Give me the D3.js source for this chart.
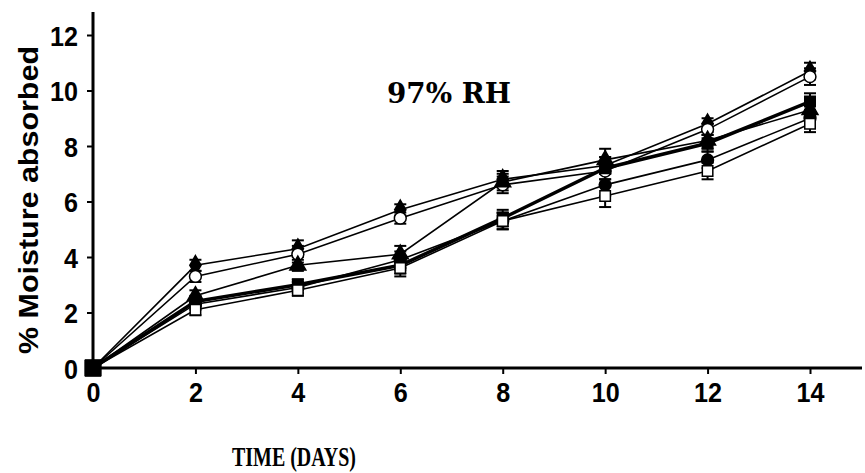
<!DOCTYPE html>
<html><head><meta charset="utf-8">
<script src="https://cdn.jsdelivr.net/npm/d3@7/dist/d3.min.js"></script>
<style>body{margin:0;background:#fff}svg{display:block}</style>
</head><body>
<svg id="c" width="865" height="473"></svg>
<script>
const days = [0, 2, 4, 6, 8, 10, 12, 14];
const xTicks = [0, 2, 4, 6, 8, 10, 12, 14];
const yTicks = [0, 2, 4, 6, 8, 10, 12];
const seriesA = [0, 3.7, 4.3, 5.7, 6.8, 7.3, 8.8, 10.7];
const seriesB = [0, 3.3, 4.1, 5.4, 6.6, 7.1, 8.6, 10.5];
const seriesC = [0, 2.6, 3.7, 4.1, 6.7, 7.5, 8.2, 9.3];
const seriesD = [0, 2.4, 3.0, 3.7, 5.4, 7.2, 8.1, 9.6];
const seriesE = [0, 2.3, 2.9, 3.9, 5.3, 6.6, 7.5, 9.0];
const seriesF = [0, 2.1, 2.8, 3.6, 5.3, 6.2, 7.1, 8.8];
const errA = [0, 0.2, 0.3, 0.2, 0.3, 0.3, 0.2, 0.3];
const errD = [0, 0.2, 0.2, 0.3, 0.3, 0.4, 0.3, 0.3];
const series = [
  {v: seriesA, e: errA, sym: d3.symbolDiamond, fill: "#000", w: 1.6},
  {v: seriesB, e: errA, sym: d3.symbolCircle, fill: "#fff", w: 1.6},
  {v: seriesC, e: errD, sym: d3.symbolTriangle, fill: "#000", w: 1.6},
  {v: seriesD, e: errD, sym: d3.symbolSquare, fill: "#000", w: 3.5},
  {v: seriesE, e: errD, sym: d3.symbolCircle, fill: "#000", w: 1.6},
  {v: seriesF, e: errD, sym: d3.symbolSquare, fill: "#fff", w: 1.6}
];

const svg = d3.select("#c");
const x = d3.scaleLinear().domain([0, 14]).range([93, 810]);
const y = d3.scaleLinear().domain([0, 12]).range([368, 35]);

// axes
const yAxis = svg.append("g").attr("transform", "translate(93,0)")
  .call(d3.axisLeft(y).tickValues(yTicks).tickSize(6).tickPadding(9));
yAxis.select(".domain").remove();
svg.append("line").attr("x1", 93).attr("x2", 93).attr("y1", 12).attr("y2", 369)
  .attr("stroke", "#000").attr("stroke-width", 3);
const xAxis = svg.append("g").attr("transform", "translate(0,368)")
  .call(d3.axisBottom(x).tickValues(xTicks).tickSize(6).tickPadding(8));
xAxis.select(".domain").remove();
svg.append("line").attr("x1", 92).attr("x2", 862).attr("y1", 368).attr("y2", 368)
  .attr("stroke", "#000").attr("stroke-width", 3);
svg.selectAll(".tick line").attr("stroke", "#000").attr("stroke-width", 2);
svg.selectAll(".tick text").attr("font-family", "Liberation Sans, Arial, sans-serif")
  .attr("font-weight", "bold").attr("font-size", 28).attr("fill", "#000")
  .attr("textLength", function() { return this.textContent.length * 14; })
  .attr("lengthAdjust", "spacingAndGlyphs");
yAxis.selectAll(".tick text").attr("dy", "0.36em");
xAxis.selectAll(".tick text").attr("dy", "0.72em");

// lines
const line = d3.line().x((d, i) => x(days[i])).y(d => y(d));
const g = svg.append("g");
series.forEach(s => {
  g.append("path").datum(s.v).attr("d", line)
    .attr("fill", "none").attr("stroke", "#000").attr("stroke-width", s.w);
});
// error bars
series.forEach(s => {
  s.v.forEach((v, i) => {
    if (i === 0) return;
    const cx = x(days[i]);
    g.append("line").attr("x1", cx).attr("x2", cx).attr("y1", y(v + s.e[i])).attr("y2", y(v - s.e[i]))
      .attr("stroke", "#000").attr("stroke-width", 2);
    [v + s.e[i], v - s.e[i]].forEach(t => g.append("line").attr("x1", cx - 6).attr("x2", cx + 6)
      .attr("y1", y(t)).attr("y2", y(t)).attr("stroke", "#000").attr("stroke-width", 2));
  });
});
// markers
series.forEach(s => {
  g.selectAll(null).data(s.v).enter().append("path")
    .attr("transform", (d, i) => `translate(${x(days[i])},${y(d)})`)
    .attr("d", (d, i) => d3.symbol().type(i === 0 ? d3.symbolSquare : s.sym).size(i === 0 ? 220 : 110)())
    .attr("fill", (d, i) => i === 0 ? "#000" : s.fill).attr("stroke", "#000").attr("stroke-width", 1.5);
});

// texts
svg.append("text").attr("x", 449).attr("y", 103).attr("text-anchor", "middle")
  .attr("font-family", "DejaVu Serif, Liberation Serif, serif").attr("font-weight", "bold")
  .attr("font-size", 27).attr("textLength", 124).attr("lengthAdjust", "spacingAndGlyphs").text("97% RH");
svg.append("text").attr("x", 294).attr("y", 466).attr("text-anchor", "middle")
  .attr("font-family", "Liberation Serif, Times New Roman, serif").attr("font-weight", "bold")
  .attr("font-size", 28).attr("textLength", 124).attr("lengthAdjust", "spacingAndGlyphs").text("TIME (DAYS)");
svg.append("text").attr("transform", "translate(38,200) rotate(-90)").attr("text-anchor", "middle")
  .attr("font-family", "Liberation Sans, Arial, sans-serif").attr("font-weight", "bold")
  .attr("font-size", 27).attr("textLength", 308).attr("lengthAdjust", "spacingAndGlyphs").text("% Moisture absorbed");
</script>
</body></html>
